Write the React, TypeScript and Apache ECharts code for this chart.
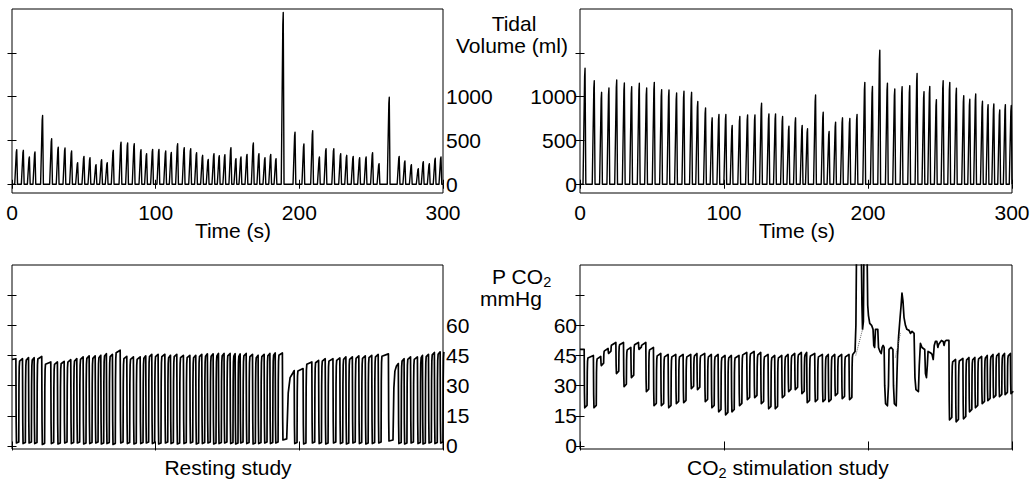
import React, { useEffect, useRef } from "react";
import * as echarts from "echarts";

// ---------- axis ticks / labels ----------
const timeTicks = [0, 100, 200, 300];
const volumeTicks = [0, 500, 1000, 1500];
const volumeLabels = [0, 500, 1000];
const pco2Ticks = [0, 15, 30, 45, 60, 75];
const pco2Labels = [0, 15, 30, 45, 60];

// ---------- Resting study ----------
// time (s) of each breath's tidal volume peak
const restBreathT = [
  3.3, 7.9, 12.1, 16.0, 21.3, 27.6, 32.2, 36.9, 41.5, 45.7,
  50.1, 54.3, 58.5, 62.4, 66.3, 70.5, 75.9, 80.5, 85.1, 89.8,
  93.7, 97.9, 102.3, 107.0, 110.9, 115.3, 119.9, 124.4, 128.5, 132.7,
  136.6, 140.6, 144.3, 148.2, 152.4, 155.9, 159.4, 163.6, 168.0, 171.9,
  176.1, 180.1, 183.8, 188.8, 197.0, 203.2, 209.3, 214.0, 218.6, 224.0,
  228.8, 233.0, 237.5, 242.0, 246.5, 251.0, 255.5, 262.6, 269.5, 273.5,
  278.0, 282.8, 286.3, 290.5, 294.6, 298.6,
];
// tidal volume peak (ml)
const restTidalV = [
  394, 387, 311, 368, 785, 519, 424, 413, 379, 246,
  318, 303, 224, 280, 246, 387, 481, 470, 462, 394,
  349, 398, 398, 379, 364, 462, 417, 405, 360, 330,
  284, 349, 326, 337, 417, 292, 311, 341, 470, 349,
  303, 341, 292, 1960, 595, 460, 610, 311, 405, 405,
  349, 330, 318, 303, 311, 360, 235, 993, 318, 265,
  224, 178, 258, 235, 296, 311,
];
// end-tidal PCO2 plateau just before each breath (mmHg)
const restEtCO2 = [
  43.4, 43.4, 43.9, 43.9, 44.5, 41.8, 41.8, 42.1, 42.9, 43.4,
  44.3, 44.8, 44.8, 45.1, 45.9, 45.6, 47.6, 44.6, 44.3, 44.3,
  44.8, 45.6, 45.6, 45.6, 45.1, 45.6, 45.1, 45.1, 45.1, 45.6,
  45.8, 45.8, 46.0, 46.0, 46.0, 45.9, 45.8, 46.0, 45.6, 45.1,
  45.6, 46.0, 46.3, 46.3, 37.5, 38.5, 41.8, 42.6, 43.4, 43.4,
  43.8, 44.3, 44.3, 44.8, 44.8, 45.1, 45.5, 45.8, 41.0, 43.4,
  44.3, 44.3, 45.1, 45.6, 46.5, 46.8,
];
// inspiratory trough PCO2 (mmHg)
const restLowCO2 = [
  1.5, 1.2, 1.5, 1.2, 0.8, 1.2, 1.0, 1.5, 1.2, 1.5,
  1.0, 1.2, 1.5, 1.0, 1.2, 0.8, 1.5, 1.2, 1.0, 1.2,
  1.5, 1.2, 1.0, 1.5, 1.2, 1.0, 1.2, 1.5, 1.0, 1.2,
  1.5, 1.0, 1.2, 1.5, 1.2, 1.0, 1.5, 1.2, 1.0, 1.2,
  1.5, 1.2, 1.5, 3.0, 1.2, 1.0, 1.5, 1.2, 1.0, 1.5,
  1.2, 1.0, 1.5, 1.2, 1.0, 1.2, 1.5, 2.5, 1.2, 1.0,
  1.5, 1.2, 1.0, 1.5, 1.2, 1.5,
];
// breaths followed by a long low-CO2 pause
const restPauses = [
  { t: 188.8, lowUntil: 191.2, riseEnd: 195.5 },
  { t: 262.6, lowUntil: 265.2, riseEnd: 267.6 },
];

// ---------- CO2 stimulation study ----------
const stimBreathT = [
  3.5, 9.9, 15.0, 20.1, 25.5, 30.8, 35.9, 41.2, 46.3, 51.6,
  56.7, 61.8, 67.1, 72.2, 77.5, 81.8, 87.2, 91.8, 96.5, 101.3,
  105.7, 111.0, 116.4, 121.5, 126.1, 131.2, 135.8, 140.7, 145.1, 149.7,
  154.3, 158.0, 163.6, 168.9, 173.0, 177.5, 182.3, 187.4,
  192.4, 197.8, 203.1, 208.2, 213.5, 218.6, 223.7, 229.0, 234.1, 238.9,
  242.9, 247.5, 252.2,
  256.8, 261.4, 266.5, 270.7, 274.8, 279.5, 283.4, 287.4, 291.5, 295.4, 299.5,
];
const stimTidalV = [
  1323, 1182, 1049, 1098, 1189, 1155, 1114, 1152, 1098, 1163,
  1080, 1076, 1042, 1061, 1049, 945, 871, 758, 796, 796,
  671, 773, 792, 792, 925, 803, 803, 773, 663, 758,
  671, 633, 1019, 822, 602, 709, 758, 750,
  796, 1163, 1117, 1530, 1152, 1087, 1114, 1125, 1265, 1057,
  1117, 966, 1182,
  1163, 1095, 1011, 970, 1030, 947, 909, 917, 849, 909, 898,
];
// null = breath inside the CO2 bolus section (drawn from stimBolus arrays)
const stimEtCO2 = [
  48, 45, 44.5, 48.5, 51.5, 51.5, 49, 51.5, 51.5, 49,
  46, 45.5, 45.5, 45.5, 45.5, 46, 46, 45.5, 45.5, 45,
  45, 45, 46.5, 47, 46.5, 45.5, 45, 45, 45.5, 46,
  46.5, 46.5, 46, 45.5, 45.5, 45.5, 45.5, 45.5,
  null, null, null, null, null, null, null, null, null, null,
  null, null, null,
  52.5, 43, 43.5, 44, 44, 44.5, 45, 45.5, 46, 46, 46,
];
const stimLowCO2 = [
  19, 19, 40, 46, 36, 29.5, 34, 48, 27, 20,
  20, 19, 21, 21.5, 28.5, 28, 22, 19, 17, 15.5,
  17, 20, 23, 24, 21, 18.5, 18.5, 24, 27, 28,
  26, 21.5, 22, 22, 22, 25, 23.5, 23,
  null, null, null, null, null, null, null, null, null, null,
  null, null, null,
  13, 12, 13.5, 17, 19, 21, 22.5, 24, 24.5, 25.5, 26,
];
// PCO2 during the CO2 bolus (s, mmHg); values above 90 run off the plot
const stimBolusT = [
  189.5, 191.0, 191.6, 192.0, 193.5, 195.3, 195.8, 196.2, 196.8, 197.2,
  199.3, 199.8, 200.3, 201.2, 202.5, 203.5, 204.0, 204.6, 205.2, 206.8,
  207.3, 208.3, 209.2, 209.8, 210.5, 211.2, 211.6, 212.2, 213.5, 214.2,
  214.6, 216.0, 217.3, 217.7, 218.3, 219.6, 220.1, 220.5, 221.3, 222.3,
  223.0, 223.6, 224.3, 225.0, 226.0, 227.0, 228.5, 229.5, 230.6, 232.0,
  232.6, 233.3, 235.0, 235.6, 236.4, 237.5, 239.4, 239.9, 240.6, 241.2,
  241.7, 243.0, 244.0, 244.5, 245.3, 246.0, 246.8, 247.8, 248.5, 249.0,
  250.0, 251.0, 252.2, 252.8, 253.5, 254.3,
];
const stimBolusV = [
  45.5, 47, 60, 95, 100, 100, 70, 58, 62, 100,
  100, 70, 65, 61, 60, 58, 50, 49, 58, 58,
  49, 47, 46, 49, 50, 49, 30, 21, 20, 30,
  48, 49, 48, 30, 21, 20, 35, 45, 55, 64,
  70, 76, 72, 64, 60, 58, 57.5, 56, 57, 56,
  34, 28, 27, 40, 51, 49, 48, 36, 34, 40,
  47, 46.5, 46, 45.5, 43, 50, 52, 52, 49, 50.5,
  51.5, 52.5, 52, 50, 52, 52.5,
];
// dotted (interpolated) segments
const stimDotted1 = [[191.5, 45], [196.2, 58]];
const stimDotted2 = [[219.0, 44], [222.5, 56]];

const FONT = "'Liberation Sans', Arial, Helvetica, sans-serif";
const FS = 21;
const SUB = 14.5;

function tidalTrace(times: number[], vols: number[]) {
  const pts: number[][] = [[0, 0]];
  times.forEach((t, i) => {
    const v = vols[i];
    pts.push([t - 1.4, 0], [t - 0.3, v * 0.93], [t, v], [t + 0.55, 0]);
  });
  const last = pts[pts.length - 1][0];
  if (last < 300) pts.push([300, 0]);
  return pts;
}

function co2Trace(
  times: number[], et: (number | null)[], low: (number | null)[], start: number,
  pauses: { t: number; lowUntil: number; riseEnd: number }[], drift: number,
  insT?: number[], insV?: number[]
) {
  const pts: number[][] = [[0, start]];
  let inserted = false;
  for (let i = 0; i < times.length; i++) {
    const E = et[i];
    const L = low[i];
    if (E == null || L == null) {
      if (!inserted && insT && insV) {
        insT.forEach((tt, k) => pts.push([tt, insV[k]]));
        inserted = true;
      }
      continue;
    }
    const t = times[i];
    const p = pauses.find((q) => q.t === t);
    const d0 = t - 0.6;
    pts.push([d0, E], [d0 + 0.2, L + (E - L) * 0.25], [d0 + 0.4, L]);
    const lowEnd = p ? p.lowUntil : t + 1.4;
    const riseEnd = p ? p.riseEnd : lowEnd + 0.6;
    let S = E;
    if (i + 1 < times.length) {
      const nE = et[i + 1];
      S = nE != null ? nE - 1.2 : insV ? insV[0] : E;
    }
    const Le = L + drift;
    const dr = riseEnd - lowEnd;
    pts.push(
      [lowEnd, Le],
      [lowEnd + dr * 0.25, Le + (S - Le) * 0.7],
      [lowEnd + dr * 0.55, Le + (S - Le) * 0.93],
      [riseEnd, S]
    );
  }
  return pts.filter((q) => q[0] <= 301);
}

const grids = [
  { left: 12, top: 9, width: 431, height: 184 },
  { left: 580, top: 9, width: 432, height: 184 },
  { left: 12, top: 265, width: 431, height: 184 },
  { left: 580, top: 265, width: 432, height: 184 },
];

export default function App() {
  const ref = useRef<HTMLDivElement>(null);
  useEffect(() => {
    document.body.style.margin = "0";
    if (!ref.current) return;
    const chart = echarts.init(ref.current, null, { renderer: "svg" });

    const ctx = document.createElement("canvas").getContext("2d")!;
    const measure = (s: string, size: number) => {
      ctx.font = `${size}px ${FONT}`;
      return ctx.measureText(s).width;
    };
    const plain = (v: number) => String(v);

    const xAxes: any[] = [];
    const yAxes: any[] = [];
    grids.forEach((_, g) => {
      const base = {
        gridIndex: g, type: "value", min: 0, max: 300, interval: 100,
        splitLine: { show: false }, axisLine: { show: false },
        axisTick: { show: true, inside: true, length: 4.5, customValues: timeTicks, lineStyle: { color: "#000", width: 1 } },
      };
      xAxes.push({
        ...base, position: "bottom",
        axisLabel: {
          show: g < 2, margin: 9, color: "#000", fontSize: FS, fontFamily: FONT,
          showMinLabel: true, showMaxLabel: true, customValues: timeTicks, formatter: plain,
        },
      });
      xAxes.push({ ...base, position: "top", axisLabel: { show: false } });

      const top = g < 2;
      const ybase = {
        gridIndex: g, type: "value",
        min: top ? -100 : -1.5, max: top ? 2000 : 90,
        splitLine: { show: false }, axisLine: { show: false },
        axisTick: { show: true, inside: true, length: 4.5, customValues: top ? volumeTicks : pco2Ticks, lineStyle: { color: "#000", width: 1 } },
      };
      const labeled = g % 2 === 0 ? "right" : "left";
      const other = labeled === "right" ? "left" : "right";
      yAxes.push({
        ...ybase, position: labeled,
        axisLabel: { show: true, customValues: top ? volumeLabels : pco2Labels, margin: 3, color: "#000", fontSize: FS, fontFamily: FONT, formatter: plain },
      });
      yAxes.push({ ...ybase, position: other, axisLabel: { show: false } });
    });

    const line = (data: any[], g: number, width: number, extra: any = {}) => ({
      type: "line", data, xAxisIndex: 2 * g, yAxisIndex: 2 * g,
      showSymbol: false, symbol: "none", clip: true, silent: true,
      lineStyle: { color: "#000", width, join: "round" }, ...extra,
    });

    const txt = (text: string, x: number, y: number, align = "left", size = FS) => ({
      type: "text", x, y, silent: true,
      style: { text, fill: "#000", fontSize: size, fontFamily: FONT, align, verticalAlign: "middle" },
    });

    const pcoW = measure("P CO", FS);
    const coW = measure("CO", FS);
    const subW = measure("2", SUB);

    chart.setOption({
      animation: false,
      backgroundColor: "#fff",
      grid: grids.map((g) => ({
        ...g, show: true, borderColor: "#000", borderWidth: 1, backgroundColor: "transparent",
        containLabel: false, outerBoundsMode: "none",
      })),
      xAxis: xAxes,
      yAxis: yAxes,
      series: [
        line(tidalTrace(restBreathT, restTidalV), 0, 1.4),
        line(tidalTrace(stimBreathT, stimTidalV), 1, 1.4),
        line(co2Trace(restBreathT, restEtCO2, restLowCO2, 43, restPauses, 0.5), 2, 1.7),
        line(co2Trace(stimBreathT, stimEtCO2, stimLowCO2, 48, [], 1.2, stimBolusT, stimBolusV), 3, 1.7),
        line(stimDotted1, 3, 1, { lineStyle: { color: "#666", width: 1, type: "dotted" } }),
        line(stimDotted2, 3, 1, { lineStyle: { color: "#666", width: 1, type: "dotted" } }),
      ],
      graphic: [
        txt("Tidal", 514, 23, "center"),
        txt("Volume (ml)", 512, 45, "center"),
        txt("Time (s)", 233, 230, "center"),
        txt("Time (s)", 797, 230, "center"),
        txt("P CO", 492, 276, "left"),
        txt("2", 492 + pcoW, 282, "left", SUB),
        txt("mmHg", 480, 298, "left"),
        txt("Resting study", 228, 467, "center"),
        txt("CO", 687, 467, "left"),
        txt("2", 687 + coW, 473, "left", SUB),
        txt(" stimulation study", 687 + coW + subW, 467, "left"),
      ],
    });
    return () => chart.dispose();
  }, []);
  return <div ref={ref} style={{ width: 1032, height: 481 }} />;
}
